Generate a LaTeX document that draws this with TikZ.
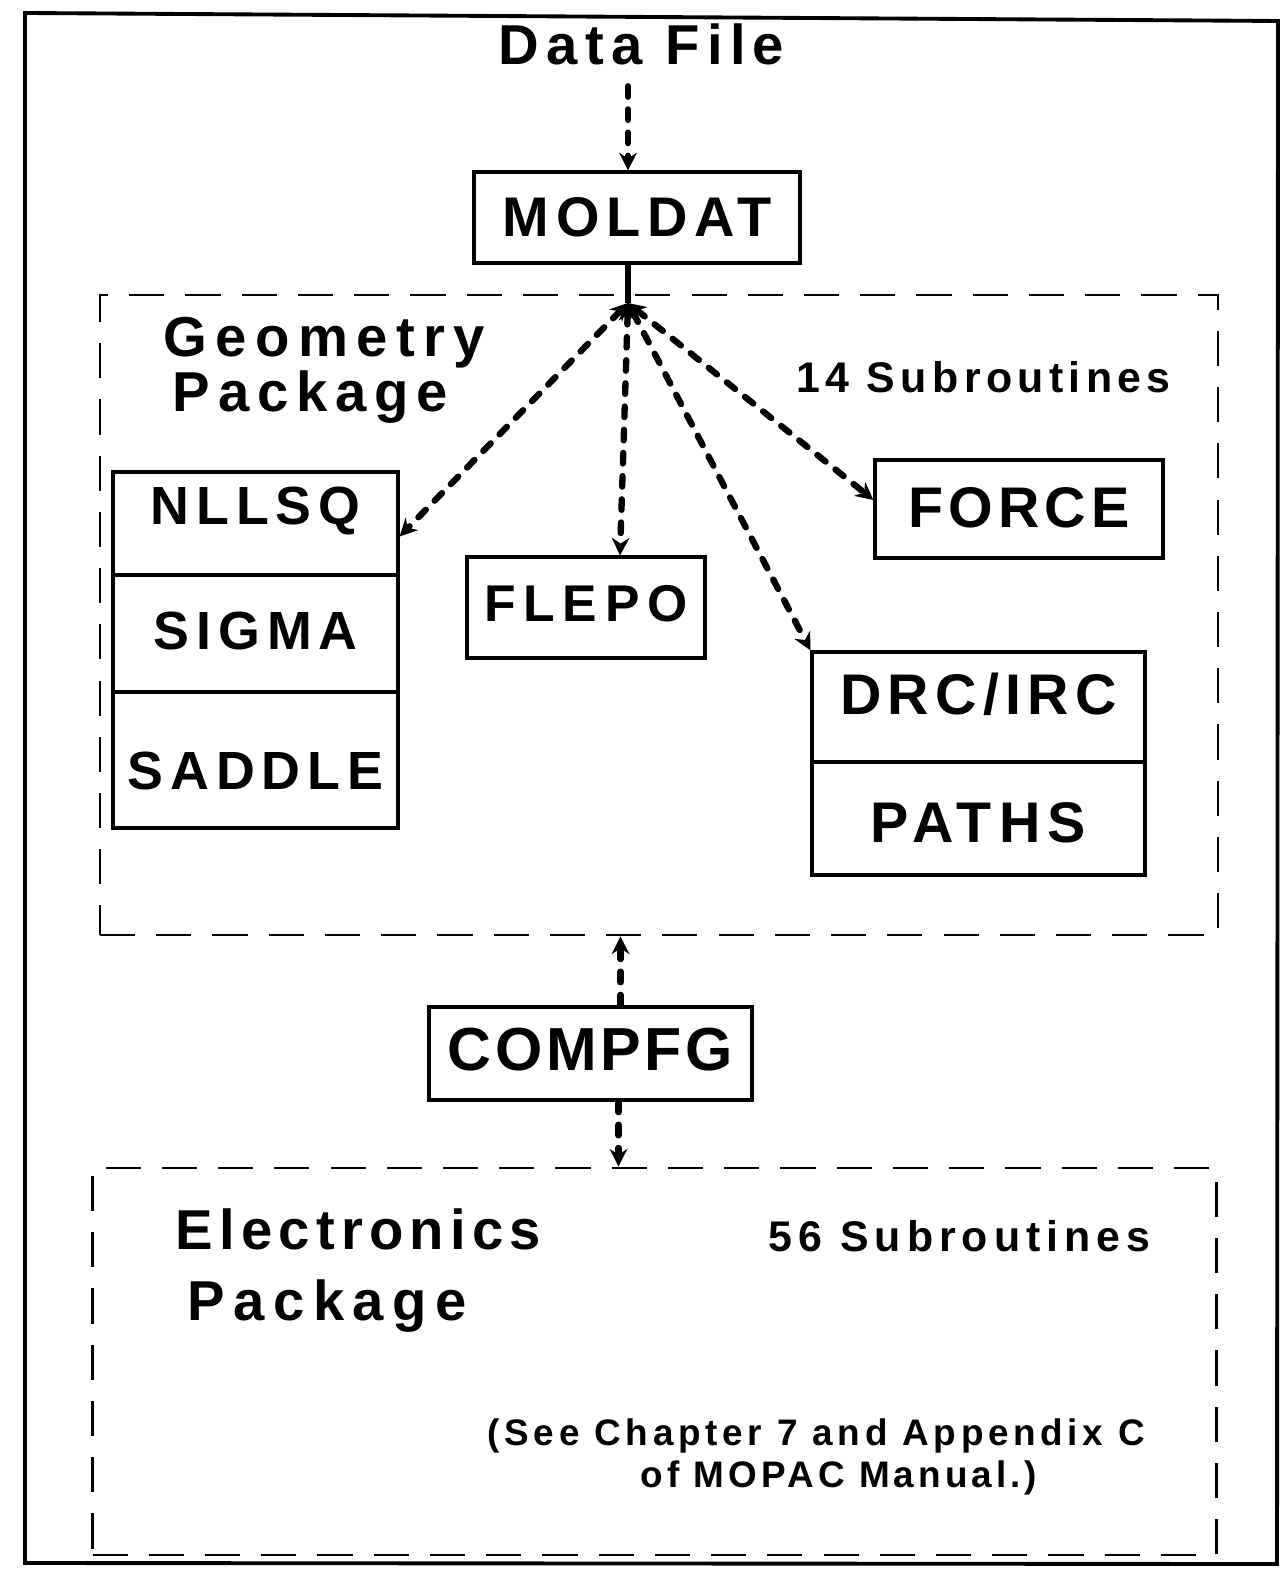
\documentclass[tikz,border=0pt]{standalone}
\usepackage{fontspec}
\setmainfont{Liberation Sans}
\usetikzlibrary{arrows.meta}
\newcommand{\lsfont}[2]{\fontsize{#1}{#1}\selectfont\bfseries\addfontfeature{LetterSpace=#2}}
\tikzset{
  cell/.style n args={3}{draw, line width=0.9pt, inner sep=0pt,
    minimum width=#1mm, minimum height=#2mm, text height=#3mm, text depth=0pt},
  pkg/.style={draw, line width=0.8pt, dash pattern=on 10pt off 6pt},
  link/.style={line width=1.8pt, line cap=round, dash pattern=on 3pt off 3.6pt,
    >={Stealth[length=5pt,width=5pt]}, ->},
  lbl/.style={inner sep=0pt, anchor=base west},
}
\begin{document}
\begin{tikzpicture}[x=0.1mm, y=-0.1mm]
  \useasboundingbox (0,0) rectangle (1282,1573);
  % outer frame
  \draw[line width=1.1pt] (25,13) -- (1278,21) -- (1277,1564) -- (25,1563) -- cycle;

  % package frames
  \node[pkg, minimum width=111.8mm, minimum height=64mm] (geo) at (659,615) {};
  \node[pkg, minimum width=112.4mm, minimum height=38.7mm] (elec) at (654.5,1361.5) {};

  % input
  \node[lbl, font=\lsfont{16}{13}] (datafile) at (498,65) {Data File};
  \node[cell={32.6}{9.1}{3.9}, font=\lsfont{15.9}{12}] (moldat) at (637,217.5) {MOLDAT};
  \coordinate (hub) at (628,303);
  \draw[link, shorten <=2mm] (datafile.south -| hub) -- (hub |- moldat.north);

  % geometry package
  \node[lbl, font=\lsfont{16}{15}] (geoname) at (163,357) {Geometry};
  \node[lbl, font=\lsfont{16}{14}] (geopack) at (172,412) {Package};
  \node[lbl, font=\lsfont{12.2}{12.5}] (geocount) at (796,393) {14 Subroutines};

  \node[cell={28.5}{10.3}{0.3}, font=\lsfont{15.3}{13}] (nllsq) at (255.5,523.5) {NLLSQ};
  \node[cell={28.5}{11.7}{3.2}, font=\lsfont{15.3}{13}] (sigma) at (255.5,633.5) {SIGMA};
  \node[cell={28.5}{13.6}{6}, font=\lsfont{15.3}{13}] (saddle) at (255.5,760) {SADDLE};
  \node[cell={23.8}{10.1}{2.9}, font=\lsfont{14.7}{15}] (flepo) at (586,607.5) {FLEPO};
  \node[cell={28.8}{9.8}{3.8}, font=\lsfont{16.3}{9}] (force) at (1019,509) {FORCE};
  \node[cell={33.3}{11}{1.6}, font=\lsfont{16.3}{11}] (drc) at (978.5,707) {DRC/IRC};
  \node[cell={33.3}{11.3}{4.7}, font=\lsfont{16.3}{13}] (paths) at (978.5,818.5) {PATHS};

  \draw[line width=1.8pt] (moldat.south -| hub) -- (hub);
  \draw[link, <->] (hub) -- ([yshift=-1.3mm]nllsq.east);
  \draw[link, <->] (hub) -- ([xshift=3.4mm]flepo.north);
  \draw[link, <->] (hub) -- (drc.north west);
  \draw[link, <->] (hub) -- ([yshift=0.9mm]force.west);

  % compfg
  \node[cell={32.3}{9.3}{3.3}, font=\lsfont{17.3}{6}] (compfg) at (590.5,1053.5) {COMPFG};
  \coordinate (cup) at ([xshift=3mm]compfg.north);
  \coordinate (cdown) at ([xshift=2.8mm]compfg.south);
  \draw[link] (cup) -- (cup |- geo.south);
  \draw[link] (cdown) -- (cdown |- elec.north);

  % electronics package
  \node[lbl, font=\lsfont{16}{11}] (elecname) at (175,1249) {Electronics};
  \node[lbl, font=\lsfont{16}{15}] (elecpack) at (187,1320) {Package};
  \node[lbl, font=\lsfont{12.2}{14}] (eleccount) at (768,1251) {56 Subroutines};
  \node[lbl, font=\lsfont{10.5}{12.7}] (note1) at (487,1445) {(See Chapter 7 and Appendix C};
  \node[lbl, font=\lsfont{10.5}{11}] (note2) at (640,1487) {of MOPAC Manual.)};
\end{tikzpicture}
\end{document}
